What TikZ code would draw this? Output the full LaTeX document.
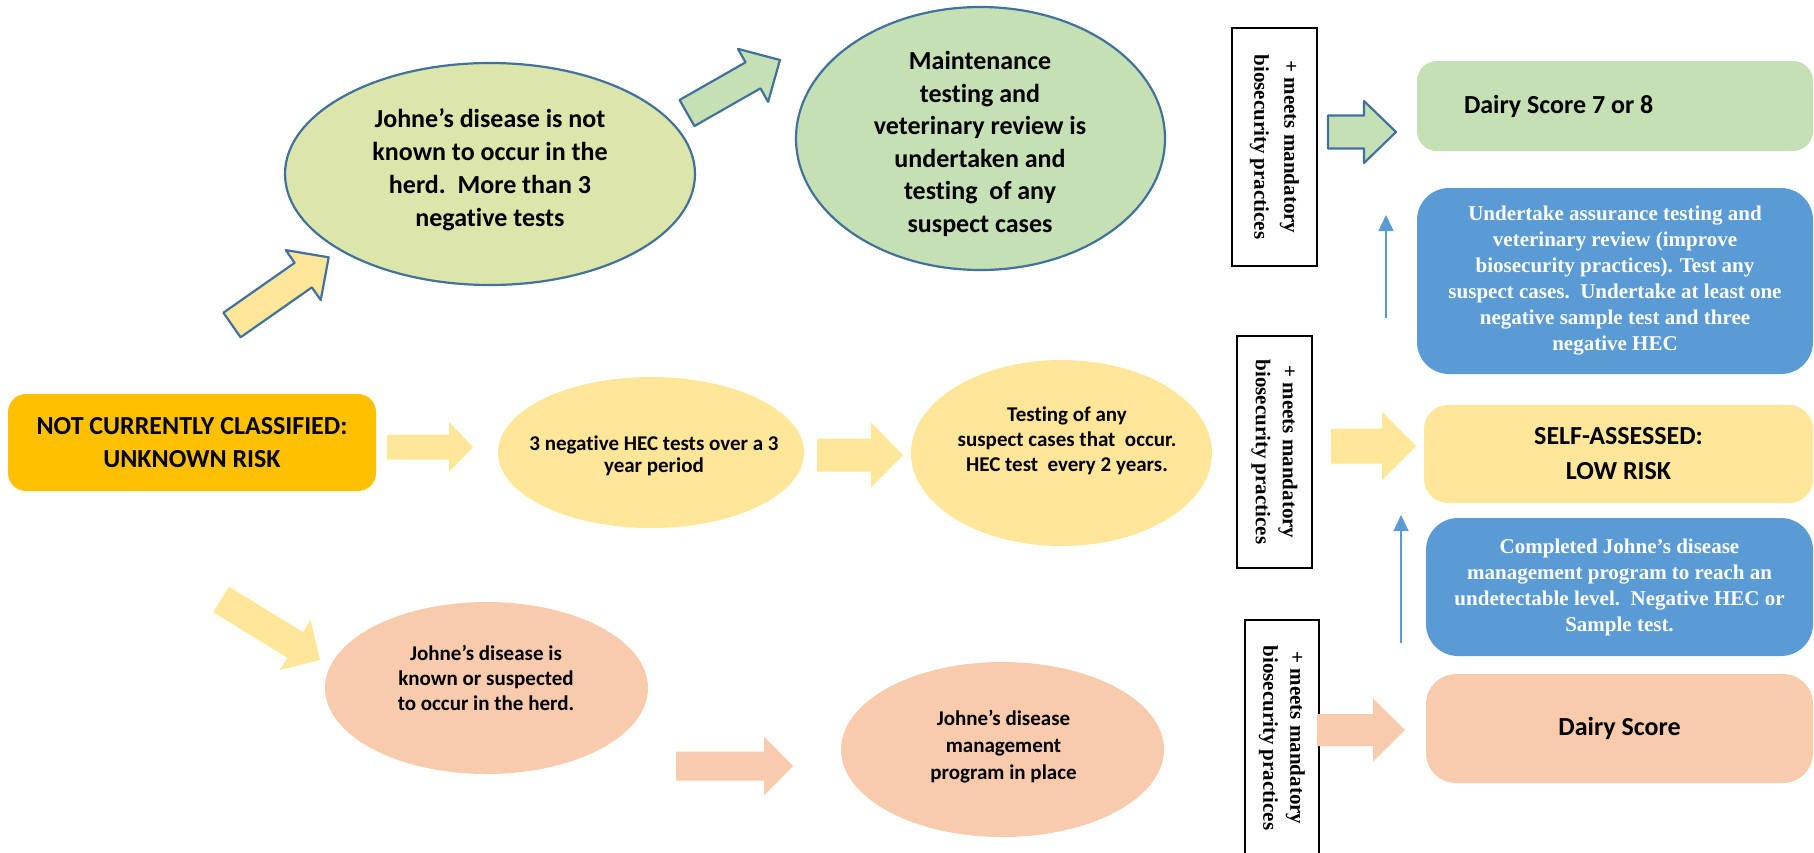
\documentclass[tikz,border=0pt]{standalone}
\usepackage{fontspec}
\setmainfont{Carlito}[Ligatures=NoCommon]
\newfontfamily\timesfont{Liberation Serif}
\usepackage{tikz}
\usetikzlibrary{shapes,arrows.meta}
\usetikzlibrary{positioning}

\definecolor{softyellow}{HTML}{FFE699}
\definecolor{peach}{HTML}{F8CBAD}
\definecolor{softgreen}{HTML}{C5E0B4}
\definecolor{palelime}{HTML}{DCE6AA}
\definecolor{amber}{HTML}{FFC000}
\definecolor{boxblue}{HTML}{5B9BD5}
\definecolor{edgeblue}{HTML}{41719C}

% block arrow: style, tail, angle, length, shaft half width, head half width, head length
\newcommand{\blockarrow}[7]{%
  \path[#1, shift={(#2)}, rotate=#3]
    (0,#5) -- ({#4-#7},#5) -- ({#4-#7},#6) -- (#4,0)
    -- ({#4-#7},-#6) -- ({#4-#7},-#5) -- (0,-#5) -- cycle;}

\begin{document}
\begin{tikzpicture}[x=1pt, y=-1pt,
	lit_edge/.style={draw=edgeblue, line width=2.2pt, line join=round},
	ellipse_node/.style={ellipse, inner sep=0pt},
	big_text/.style={align=center, inner sep=0pt, font=\bfseries\fontsize{26}{33}\selectfont},
	small_text/.style={align=center, inner sep=0pt, font=\bfseries\fontsize{21}{25}\selectfont},
	box_node/.style={rectangle, inner sep=0pt, align=center, font=\bfseries\fontsize{26}{33}\selectfont},
	blue_box/.style={fill=boxblue, text=white, font=\timesfont\bfseries\fontsize{21}{26}\selectfont},
	rot_node/.style={draw, line width=1.2pt, rotate=-90, align=center, inner sep=0pt, font=\timesfont\bfseries\fontsize{21}{27}\selectfont},
	thin_arrow/.style={draw=boxblue, line width=1.5pt, -{Triangle[width=15pt,length=16pt]}}]

	\useasboundingbox (0,0) rectangle (1814,852);

	% top row
	\node[ellipse_node, lit_edge, fill=palelime, minimum width=410, minimum height=222] (not_known) at (490,174) {};
	\node[big_text] (not_known_text) at (490,170) {Johne’s disease is not\\known to occur in the\\herd.\ \ More than 3\\negative tests};
	\node[ellipse_node, lit_edge, fill=softgreen, minimum width=369, minimum height=263] (maintenance) at (980.5,138.5) {};
	\node[big_text, font=\bfseries\fontsize{26}{32.5}\selectfont] (maintenance_text) at (980,144) {Maintenance\\testing and\\veterinary review is\\undertaken and\\testing\ \ of any\\suspect cases};

	% middle row
	\node[box_node, fill=amber, rounded corners=18, minimum width=368, minimum height=97] (unknown) at (192,442.5) {NOT CURRENTLY CLASSIFIED:\\UNKNOWN RISK};
	\node[ellipse_node, fill=softyellow, minimum width=306, minimum height=151] (three_hec) at (651,452.5) {};
	\node[small_text, font=\bfseries\fontsize{21}{22}\selectfont] (three_hec_text) at (654,456) {3 negative HEC tests over a 3\\year period};
	\node[ellipse_node, fill=softyellow, minimum width=301, minimum height=186] (any_cases) at (1061.5,453) {};
	\node[small_text] (any_cases_text) at (1067,441) {Testing of any\\suspect cases that\ \ occur.\\HEC test\ \ every 2 years.};

	% bottom row
	\node[ellipse_node, fill=peach, minimum width=323, minimum height=172] (suspected) at (486.5,688) {};
	\node[small_text] (suspected_text) at (486,678) {Johne’s disease is\\known or suspected\\to occur in the herd.};
	\node[ellipse_node, fill=peach, minimum width=323, minimum height=175] (program) at (1002.5,749.5) {};
	\node[small_text, font=\bfseries\fontsize{21}{27}\selectfont] (program_text) at (1003.5,747) {Johne’s disease\\management\\program in place};

	% biosecurity boxes
	\node[rot_node, minimum width=238, minimum height=85, font=\timesfont\bfseries\fontsize{21}{30}\selectfont] (bio_top) at (1274.5,147) {+ meets mandatory\\biosecurity practices};
	\node[rot_node, minimum width=232, minimum height=75] (bio_mid) at (1274.5,452) {+ meets mandatory\\biosecurity practices};
	\node[rot_node, minimum width=236, minimum height=74] (bio_low) at (1282,738) {+ meets mandatory\\biosecurity practices};

	% outcome boxes
	\node[box_node, fill=softgreen, rounded corners=20, minimum height=90, text width=302, inner xsep=47, align=flush left] (score_high) at (1615,106) {Dairy Score 7 or 8};
	\node[box_node, blue_box, rounded corners=32, minimum width=396, minimum height=186] (assurance) at (1615,281) {Undertake assurance testing and\\veterinary review (improve\\biosecurity practices). Test any\\suspect cases.\ \ Undertake at least one\\negative sample test and three\\negative HEC};
	\node[box_node, fill=softyellow, rounded corners=24, minimum width=389, minimum height=98, font=\bfseries\fontsize{26}{35}\selectfont] (low_risk) at (1618.5,454) {SELF-ASSESSED:\\LOW RISK};
	\node[box_node, blue_box, rounded corners=32, minimum width=387, minimum height=138] (completed) at (1619.5,587) {Completed Johne’s disease\\management program to reach an\\undetectable level.\ \ Negative HEC or\\Sample test.};
	\node[box_node, fill=peach, rounded corners=30, minimum width=387, minimum height=109] (score_low) at (1619.5,728.5) {Dairy Score};

	% block arrows
	\blockarrow{lit_edge, fill=softyellow}{232,325}{35}{118}{15}{30.5}{31}
	\blockarrow{lit_edge, fill=softgreen}{687,113}{29.7}{107}{15}{30.5}{31}
	\blockarrow{lit_edge, fill=softgreen}{1328,132}{0}{68}{16.5}{31}{32}
	\blockarrow{fill=softyellow}{387,447}{0}{86}{12.5}{25}{24}
	\blockarrow{fill=softyellow}{817,455}{0}{86}{16.5}{32.5}{32}
	\blockarrow{fill=softyellow}{1331,446}{0}{85}{17.5}{34}{34}
	\blockarrow{fill=softyellow}{221,599.5}{-31.4}{116}{15}{29.5}{29}
	\blockarrow{fill=peach}{676,766}{0}{117}{14.5}{29.5}{29}
	\blockarrow{fill=peach}{1317,730}{0}{88}{16}{31.5}{32}

	% thin arrows
	\coordinate (assure_foot) at (1386,318);
	\coordinate (assure_tip) at (1386,215);
	\coordinate (complete_foot) at (1401,643);
	\coordinate (complete_tip) at (1401,515);
	\draw[thin_arrow] (assure_foot) -- (assure_tip);
	\draw[thin_arrow] (complete_foot) -- (complete_tip);
\end{tikzpicture}
\end{document}
